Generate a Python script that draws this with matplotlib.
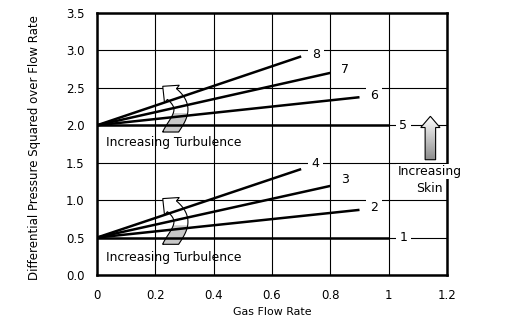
import numpy as np
import matplotlib
matplotlib.use("Agg")
import matplotlib.pyplot as plt
from matplotlib.patches import Polygon

# Data
labels = ["1", "2", "3", "4", "5", "6", "7", "8"]
intercepts = [0.5, 0.5, 0.5, 0.5, 2.0, 2.0, 2.0, 2.0]
x_end = [1.0, 0.9, 0.8, 0.7, 1.0, 0.9, 0.8, 0.7]
y_end = [0.5, 0.87, 1.19, 1.415, 2.0, 2.375, 2.70, 2.92]
label_x = [1.05, 0.95, 0.85, 0.75, 1.05, 0.95, 0.85, 0.75]
label_y = [0.5, 0.90, 1.28, 1.49, 2.0, 2.40, 2.74, 2.95]
xticks = [0, 0.2, 0.4, 0.6, 0.8, 1.0, 1.2]
xticklabels = ["0", "0.2", "0.4", "0.6", "0.8", "1", "1.2"]
yticks = [0.0, 0.5, 1.0, 1.5, 2.0, 2.5, 3.0, 3.5]
yticklabels = ["0.0", "0.5", "1.0", "1.5", "2.0", "2.5", "3.0", "3.5"]

plt.rcParams['font.family'] = ['DejaVu Sans']
fig = plt.figure(figsize=(5.07, 3.31), dpi=100)
ax = fig.add_axes([97/507, 1-275/331, 350/507, 262/331])
ax.set_xlim(0, 1.2)
ax.set_ylim(0, 3.5)
ax.set_xticks(xticks)
ax.set_xticklabels(xticklabels, fontsize=8.5)
ax.set_yticks(yticks)
ax.set_yticklabels(yticklabels, fontsize=8.5)
ax.tick_params(axis='x', length=0, pad=10)
ax.tick_params(axis='y', length=0, pad=9)
ax.grid(True, color='black', linewidth=0.8)
ax.set_axisbelow(True)
for s in ax.spines.values():
    s.set_linewidth(1.8)

for i in range(8):
    ax.plot([0, x_end[i]], [intercepts[i], y_end[i]], color='black', lw=1.8, solid_capstyle='butt', zorder=3)
    ax.text(label_x[i], label_y[i], labels[i], fontsize=9, ha='center', va='center', zorder=4,
            bbox=dict(boxstyle='square,pad=0.3', fc='white', ec='none'))

ax.set_xlabel("Gas Flow Rate", fontsize=7.9, labelpad=4)
ax.set_ylabel("Differential Pressure Squared over Flow Rate", fontsize=8.5)
ax.yaxis.set_label_coords(-0.16, 0.485)

ax.text(0.03, 1.77, "Increasing Turbulence", fontsize=8.9, ha='left', va='center', zorder=4)
ax.text(0.03, 0.23, "Increasing Turbulence", fontsize=8.9, ha='left', va='center', zorder=4)
ax.text(1.14, 1.38, "Increasing", fontsize=8.9, ha='center', va='center', zorder=4,
        bbox=dict(boxstyle='square,pad=0.1', fc='white', ec='none'))
ax.text(1.14, 1.16, "Skin", fontsize=8.9, ha='center', va='center', zorder=4,
        bbox=dict(boxstyle='square,pad=0.1', fc='white', ec='none'))

# curved arrows built in pixel space then mapped to data units
PX_X = 350 / 1.2
PX_Y = 262 / 3.5

def curved_arrow_pts():
    P0 = np.array([-1.0, -3.0]); P1 = np.array([5.0, 10.0])
    P2 = np.array([21.0, 22.0]); P3 = np.array([2.0, 38.0])
    t = np.linspace(0, 1, 80)[:, None]
    B = ((1 - t) ** 3 * P0 + 3 * (1 - t) ** 2 * t * P1
         + 3 * (1 - t) * t ** 2 * P2 + t ** 3 * P3)
    T = (3 * (1 - t) ** 2 * (P1 - P0) + 6 * (1 - t) * t * (P2 - P1)
         + 3 * t ** 2 * (P3 - P2))
    T = T / np.linalg.norm(T, axis=1)[:, None]
    N = np.column_stack([-T[:, 1], T[:, 0]])
    hw, hh, hl = 7.0, 11.5, 12.0
    left = B + hw * N
    right = B - hw * N
    te = T[-1]; ne = N[-1]
    tip = P3 + hl * te
    pts = np.vstack([right, [P3 - hh * ne], [tip], [P3 + hh * ne], left[::-1]])
    return pts

def clip_poly(pts, ylo, yhi):
    def clip(poly, yc, keep_above):
        out = []
        n = len(poly)
        for k in range(n):
            a = poly[k]; b = poly[(k + 1) % n]
            ina = a[1] >= yc if keep_above else a[1] <= yc
            inb = b[1] >= yc if keep_above else b[1] <= yc
            if ina:
                out.append(a)
            if ina != inb:
                s = (yc - a[1]) / (b[1] - a[1])
                out.append(a + s * (b - a))
        return np.array(out)
    return clip(clip(pts, ylo, True), yhi, False)

cpts = curved_arrow_pts()
for base in [2.0, 0.5]:
    x0, y0 = 0.25, base - 0.09
    white = clip_poly(cpts, 0.0, 1e9)
    gray = clip_poly(cpts, 0.0, 19.0)
    to_data = lambda pp: np.column_stack([x0 + pp[:, 0] / PX_X, y0 + pp[:, 1] / PX_Y])
    ax.add_patch(Polygon(to_data(white), closed=True, fc='white', ec='none', zorder=2.5))
    ax.add_patch(Polygon(to_data(gray), closed=True, fc='#c8c8c8', ec='none', zorder=2.6))
    ax.add_patch(Polygon(to_data(white), closed=True, fc='none', ec='black', lw=0.8, zorder=2.7))

# straight up arrow with gradient
ax_x, w, hw = 1.143, 0.018, 0.033
ya, yb, hl = 1.54, 2.12, 0.15
pts = [(ax_x - w, ya), (ax_x + w, ya), (ax_x + w, yb - hl), (ax_x + hw, yb - hl),
       (ax_x, yb), (ax_x - hw, yb - hl), (ax_x - w, yb - hl)]
poly = Polygon(pts, closed=True, fc='none', ec='black', lw=0.8, zorder=6)
ax.add_patch(poly)
grad = np.linspace(1, 0, 100).reshape(-1, 1)
im = ax.imshow(grad, cmap='gray', vmin=-1.2, vmax=1.0, extent=[ax_x - hw, ax_x + hw, ya, yb],
               origin='upper', aspect='auto', zorder=5)
im.set_clip_path(Polygon(pts, closed=True, transform=ax.transData))
ax.set_xlim(0, 1.2)
ax.set_ylim(0, 3.5)

fig.savefig("out.png", dpi=100)
